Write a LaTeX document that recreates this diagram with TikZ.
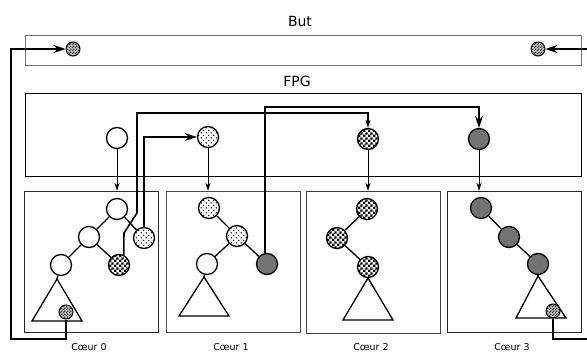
\documentclass[tikz,border=0pt]{standalone}
\usepackage{fontspec}
\setmainfont{DejaVu Sans}
\usetikzlibrary{patterns,arrows.meta}
\pgfdeclarepatternformonly{bigck}{\pgfpointorigin}{\pgfqpoint{5.2pt}{5.2pt}}{\pgfqpoint{5.2pt}{5.2pt}}{%
  \pgfpathrectangle{\pgfpointorigin}{\pgfqpoint{2.65pt}{2.65pt}}%
  \pgfpathrectangle{\pgfqpoint{2.6pt}{2.6pt}}{\pgfqpoint{2.65pt}{2.65pt}}%
  \pgfusepath{fill}}
\pgfdeclarepatternformonly{smallck}{\pgfpointorigin}{\pgfqpoint{3pt}{3pt}}{\pgfqpoint{3pt}{3pt}}{%
  \pgfpathrectangle{\pgfpointorigin}{\pgfqpoint{1.5pt}{1.5pt}}%
  \pgfpathrectangle{\pgfqpoint{1.5pt}{1.5pt}}{\pgfqpoint{1.5pt}{1.5pt}}%
  \pgfusepath{fill}}
\pgfdeclarepatternformonly{spdots}{\pgfqpoint{-1pt}{-1pt}}{\pgfqpoint{6pt}{6pt}}{\pgfqpoint{5pt}{5pt}}{%
  \pgfpathcircle{\pgfqpoint{1.2pt}{1.2pt}}{0.75pt}%
  \pgfpathcircle{\pgfqpoint{3.7pt}{3.7pt}}{0.75pt}%
  \pgfusepath{fill}}
\begin{document}
\begin{tikzpicture}[x=1pt,y=-1pt,
 nd/.style={circle,draw,line width=1.3pt,minimum size=21pt,inner sep=0pt},
 wh/.style={nd,fill=white},
 dt/.style={nd,fill=white,postaction={pattern=spdots}},
 ck/.style={nd,fill=white,postaction={pattern=bigck}},
 dk/.style={nd,fill=black!55},
 sm/.style={circle,draw,line width=1pt,minimum size=14pt,inner sep=0pt,fill=black!25,postaction={pattern=smallck,pattern color=black!80}},
 ed/.style={line width=1.3pt},
 tri/.style={line width=1.3pt,line join=miter},
 conn/.style={line width=1.6pt,-{Stealth[length=12pt,width=8pt,inset=4pt]}},
 connb/.style={line width=1.6pt,-{Stealth[length=8pt,width=5pt,inset=2pt]}},
 thinarr/.style={line width=0.9pt,-{Stealth[length=8pt,width=5pt,inset=2pt]}},
 box/.style={draw=black!85,line width=0.9pt,anchor=north west,inner sep=0pt},
 lbl/.style={font=\fontsize{14}{16}\selectfont,inner sep=0pt},
 clbl/.style={font=\fontsize{9.5}{11}\selectfont,inner sep=0pt}]
\path[fill=white,use as bounding box] (0,0) rectangle (587,354);

% boxes
\node[box,draw=black!55,minimum width=556pt,minimum height=30pt] (butbox) at (25,35) {};
\node[box,draw=black,line width=1.4pt,minimum width=556pt,minimum height=83pt] (fpgbox) at (25,93) {};
\node[box,minimum width=134pt,minimum height=141pt] (c0) at (24,191) {};
\node[box,draw=black!70,minimum width=134pt,minimum height=141pt] (c1) at (166,191) {};
\node[box,draw=black!75,minimum width=134pt,minimum height=142pt] (c2) at (306,191) {};
\node[box,minimum width=134pt,minimum height=141pt] (c3) at (447,191) {};

% labels
\node[lbl] (lbut) at (300,21) {But};
\node[lbl] (lfpg) at (297,81) {FPG};
\node[clbl] (l0) at (89,347.5) {Cœur 0};
\node[clbl] (l1) at (231,347.5) {Cœur 1};
\node[clbl] (l2) at (371,347.5) {Cœur 2};
\node[clbl] (l3) at (512,347.5) {Cœur 3};

% triangles
\coordinate (a0) at (57,279);
\draw[tri] (a0) -- (32,321) -- (82,321) -- cycle;
\coordinate (a1) at (204,277);
\draw[tri] (a1) -- (179,316) -- (229,316) -- cycle;
\coordinate (a2) at (368,278);
\draw[tri] (a2) -- (343,320) -- (393,320) -- cycle;
\coordinate (a3) at (538,276);
\draw[tri] (a3) -- (516,318) -- (566,318) -- cycle;

% nodes: But
\node[sm] (bl) at (73,49) {};
\node[sm] (br) at (538,49) {};
% FPG
\node[wh] (f0) at (117,138) {};
\node[dt] (f1) at (208,137) {};
\node[ck] (f2) at (368,139) {};
\node[dk] (f3) at (479,139) {};
% Core 0
\node[wh] (t0a) at (117,209) {};
\node[wh] (t0b) at (89,237) {};
\node[wh] (t0c) at (61,265) {};
\node[dt] (t0d) at (144,238) {};
\node[ck] (t0e) at (119,265) {};
\node[sm] (s0) at (66,312) {};
% Core 1
\node[dt] (t1a) at (209,208) {};
\node[dt] (t1b) at (237,236) {};
\node[wh] (t1c) at (207,264) {};
\node[dk] (t1d) at (267,264) {};
% Core 2
\node[ck] (t2a) at (367,209) {};
\node[ck] (t2b) at (337,238) {};
\node[ck] (t2c) at (368,267) {};
% Core 3
\node[dk] (t3a) at (481,208) {};
\node[dk] (t3b) at (509,237) {};
\node[dk] (t3c) at (538,264) {};
\node[sm] (s3) at (553,311) {};

% tree edges
\draw[ed] (t0a) -- (t0b);
\draw[ed] (t0a) -- (t0d);
\draw[ed] (t0b) -- (t0c);
\draw[ed] (t0b) -- (t0e);
\draw[ed] (t0c) -- (a0);
\draw[ed] (t1a) -- (t1b);
\draw[ed] (t1b) -- (t1c);
\draw[ed] (t1b) -- (t1d);
\draw[ed] (t1c) -- (a1);
\draw[ed] (t2a) -- (t2b);
\draw[ed] (t2b) -- (t2c);
\draw[ed] (t2c) -- (a2);
\draw[ed] (t3a) -- (t3b);
\draw[ed] (t3b) -- (t3c);
\draw[ed] (t3c) -- (a3);

% FPG to cores
\draw[thinarr] (f0) -- (f0 |- c0.north);
\draw[thinarr] (f1) -- (f1 |- c1.north);
\draw[thinarr] (f2) -- (f2 |- c2.north);
\draw[thinarr] (f3) -- (f3 |- c3.north);

% long connectors
\coordinate (lc) at (11,339);
\draw[conn] (s0) |- (lc) |- (bl);
\coordinate (rc) at (592,339);
\draw[conn] (s3) |- (rc) |- (br);
\coordinate (ka) at (124,233);
\coordinate (kb) at (137,213);
\coordinate (kc) at (137,113);
\draw[connb] (t0e.65) -- (ka) -- (kb) -- (kc) -| (f2.north);
\coordinate (tb) at (479,107);
\draw[conn] (t1d.100) |- (tb) -- (f3.north);
\draw[conn] (t0d.north) |- (f1.west);
\end{tikzpicture}
\end{document}
